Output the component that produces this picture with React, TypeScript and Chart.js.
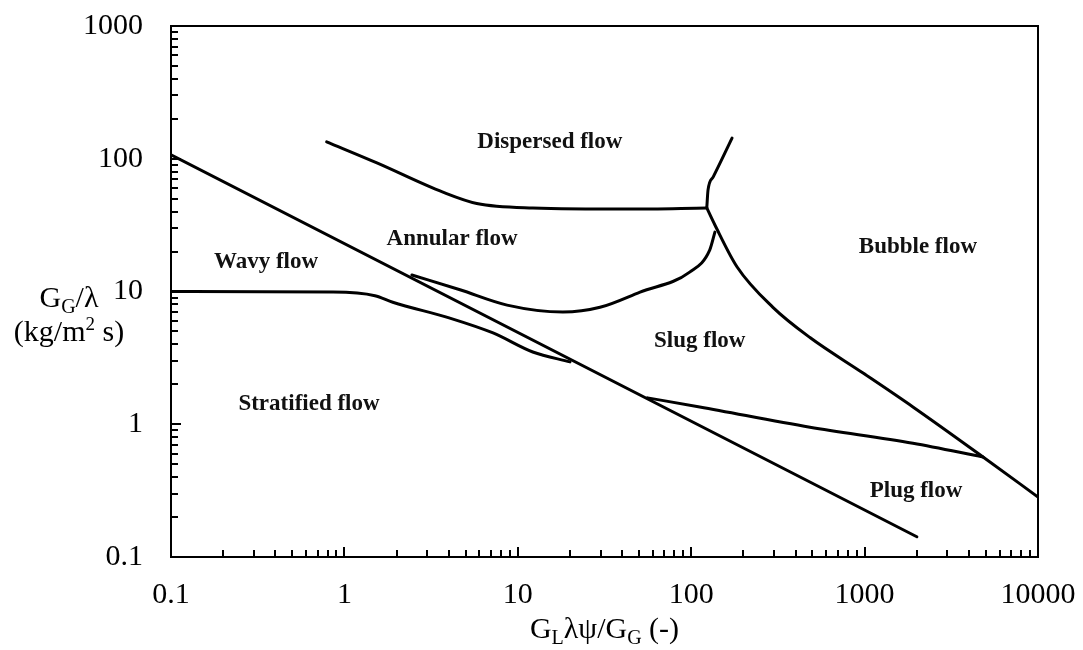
import React, { useEffect, useRef } from 'react';
import { Chart, registerables } from 'chart.js';

Chart.register(...registerables);

const SERIF = "'Liberation Serif', 'Times New Roman', serif";

// ---- axis ticks ----
const xMajorTicks = [0.1, 1, 10, 100, 1000, 10000];
const xTickLabels = ['0.1', '1', '10', '100', '1000', '10000'];
const yMajorTicks = [0.1, 1, 10, 100, 1000];
const yTickLabels = ['0.1', '1', '10', '100', '1000'];
const minorMultipliers = [2, 3, 4, 5, 6, 7, 8, 9];

// ---- flow-regime boundaries (GLλψ/GG , GG/λ) ----
const stratifiedX = [0.1, 2000];
const stratifiedY = [107, 0.142];

const wavyX = [0.1, 0.86, 1.5, 1.9, 4.06, 7.2, 12.2, 20];
const wavyY = [10.0, 9.9, 9.3, 8.3, 6.3, 4.87, 3.5, 2.95];

const dispersedX = [0.79, 1.54, 3.7, 5.8, 12.2, 44, 123];
const dispersedY = [134, 93, 56, 46, 42.6, 41.8, 42.6];

const dispBubbleX = [123, 125, 134, 172];
const dispBubbleY = [42.6, 58, 73, 143];

const bubbleX = [123, 137, 184, 296, 484, 980, 1900, 4820, 10000];
const bubbleY = [42.6, 31.7, 15.3, 7.6, 4.5, 2.43, 1.35, 0.567, 0.283];

const annularX = [2.45, 4.64, 8.67, 18.2, 29.8, 50.7, 98, 128, 137];
const annularY = [13.3, 10.3, 7.9, 7.0, 7.6, 9.9, 14, 20.6, 28];

const plugX = [56, 112, 484, 1900, 4820];
const plugY = [1.58, 1.35, 0.95, 0.72, 0.567];

// ---- region labels ----
const regionNames = ['Dispersed flow', 'Annular flow', 'Wavy flow', 'Stratified flow', 'Slug flow', 'Bubble flow', 'Plug flow'];
const regionX = [15.3, 4.18, 0.353, 0.625, 112, 2030, 1980];
const regionY = [120, 22.4, 15.0, 1.28, 3.82, 19.5, 0.283];

const boundaries = [
  { xs: stratifiedX, ys: stratifiedY, curved: false },
  { xs: wavyX, ys: wavyY, curved: true },
  { xs: dispersedX, ys: dispersedY, curved: true },
  { xs: dispBubbleX, ys: dispBubbleY, curved: true },
  { xs: bubbleX, ys: bubbleY, curved: true },
  { xs: annularX, ys: annularY, curved: true },
  { xs: plugX, ys: plugY, curved: true },
];

function buildTicks(majors: number[]) {
  const out: { value: number; major: boolean }[] = [];
  majors.forEach((m, i) => {
    out.push({ value: m, major: true });
    if (i < majors.length - 1) {
      minorMultipliers.forEach((k) => out.push({ value: Number((m * k).toPrecision(8)), major: false }));
    }
  });
  return out;
}

function labelFor(value: number, majors: number[], labels: string[]) {
  const i = majors.findIndex((v) => Math.abs(v - value) / v < 1e-6);
  return i >= 0 ? labels[i] : '';
}

type Part = { t: string; size: number; dy?: number };

function drawRich(ctx: CanvasRenderingContext2D, parts: Part[], cx: number, baseline: number) {
  let total = 0;
  const widths = parts.map((p) => {
    ctx.font = `${p.size}px ${SERIF}`;
    const w = ctx.measureText(p.t).width;
    total += w;
    return w;
  });
  let x = cx - total / 2;
  ctx.textAlign = 'left';
  ctx.textBaseline = 'alphabetic';
  parts.forEach((p, i) => {
    ctx.font = `${p.size}px ${SERIF}`;
    ctx.fillText(p.t, x, baseline + (p.dy || 0));
    x += widths[i];
  });
}

const framePlugin = {
  id: 'framePlugin',
  afterDatasetsDraw(chart: any) {
    const { ctx, chartArea } = chart;
    const xs = chart.scales.x;
    const ys = chart.scales.y;
    ctx.save();
    ctx.strokeStyle = '#000';
    ctx.lineWidth = 2;
    ctx.strokeRect(chartArea.left, chartArea.top, chartArea.right - chartArea.left, chartArea.bottom - chartArea.top);

    // inward tick marks
    ctx.lineWidth = 2;
    ctx.beginPath();
    xs.ticks.forEach((t: any) => {
      const px = Math.round(xs.getPixelForValue(t.value));
      const len = t.major ? 10 : 7;
      ctx.moveTo(px, chartArea.bottom);
      ctx.lineTo(px, chartArea.bottom - len);
    });
    ys.ticks.forEach((t: any) => {
      const py = Math.round(ys.getPixelForValue(t.value));
      const len = t.major ? 10 : 7;
      ctx.moveTo(chartArea.left, py);
      ctx.lineTo(chartArea.left + len, py);
    });
    ctx.stroke();

    // region labels
    ctx.fillStyle = '#111';
    ctx.font = `bold 23px ${SERIF}`;
    ctx.textAlign = 'center';
    ctx.textBaseline = 'alphabetic';
    regionNames.forEach((name, i) => {
      ctx.fillText(name, xs.getPixelForValue(regionX[i]), ys.getPixelForValue(regionY[i]));
    });

    // axis titles
    ctx.fillStyle = '#000';
    const cx = (chartArea.left + chartArea.right) / 2;
    drawRich(
      ctx,
      [
        { t: 'G', size: 30 },
        { t: 'L', size: 20, dy: 6 },
        { t: 'λψ/G', size: 30 },
        { t: 'G', size: 20, dy: 6 },
        { t: ' (-)', size: 30 },
      ],
      cx,
      chartArea.bottom + 81
    );
    const y10 = ys.getPixelForValue(10);
    const lx = chartArea.left - 102;
    drawRich(
      ctx,
      [
        { t: 'G', size: 30 },
        { t: 'G', size: 20, dy: 6 },
        { t: '/λ', size: 30 },
      ],
      lx,
      y10 + 15
    );
    drawRich(
      ctx,
      [
        { t: '(kg/m', size: 30 },
        { t: '2', size: 19, dy: -11 },
        { t: ' s)', size: 30 },
      ],
      lx,
      y10 + 49
    );
    ctx.restore();
  },
};

function zeroPadding(scale: any) {
  scale.paddingTop = 0;
  scale.paddingBottom = 0;
  scale.paddingLeft = 0;
  scale.paddingRight = 0;
}

export default function App() {
  const ref = useRef<HTMLCanvasElement | null>(null);

  useEffect(() => {
    if (!ref.current) return;
    const datasets = boundaries.map((b) => ({
      data: b.xs.map((x, i) => ({ x, y: b.ys[i] })),
      showLine: true,
      borderColor: '#000',
      borderWidth: 3,
      pointRadius: 0,
      fill: false,
      cubicInterpolationMode: b.curved ? ('monotone' as const) : ('default' as const),
      tension: b.curved ? 0.4 : 0,
      borderCapStyle: 'round' as const,
      borderJoinStyle: 'round' as const,
    }));

    const chart = new Chart(ref.current, {
      type: 'scatter',
      data: { datasets },
      options: {
        animation: false,
        responsive: false,
        maintainAspectRatio: false,
        layout: { padding: { left: 0, top: 26, right: 45, bottom: 0 } },
        plugins: { legend: { display: false }, tooltip: { enabled: false } },
        scales: {
          x: {
            type: 'logarithmic',
            position: 'bottom',
            min: 0.1,
            max: 10000,
            grid: { display: false, drawTicks: false },
            border: { display: false },
            afterBuildTicks: (scale: any) => {
              scale.ticks = buildTicks(xMajorTicks);
            },
            afterFit: (scale: any) => {
              scale.height = 93;
              zeroPadding(scale);
            },
            ticks: {
              autoSkip: false,
              maxRotation: 0,
              padding: 20,
              color: '#000',
              font: { family: SERIF, size: 30 },
              callback: (v: any) => labelFor(Number(v), xMajorTicks, xTickLabels),
            },
          },
          y: {
            type: 'logarithmic',
            position: 'left',
            min: 0.1,
            max: 1000,
            grid: { display: false, drawTicks: false },
            border: { display: false },
            afterBuildTicks: (scale: any) => {
              scale.ticks = buildTicks(yMajorTicks);
            },
            afterFit: (scale: any) => {
              scale.width = 171;
              zeroPadding(scale);
            },
            ticks: {
              autoSkip: false,
              padding: 28,
              color: '#000',
              font: { family: SERIF, size: 30 },
              callback: (v: any) => labelFor(Number(v), yMajorTicks, yTickLabels),
            },
          },
        },
      },
      plugins: [framePlugin],
    });
    return () => chart.destroy();
  }, []);

  return (
    <div style={{ position: 'fixed', left: 0, top: 0, width: 1083, height: 650, background: '#fff' }}>
      <canvas ref={ref} width={1083} height={650} style={{ display: 'block' }} />
    </div>
  );
}
